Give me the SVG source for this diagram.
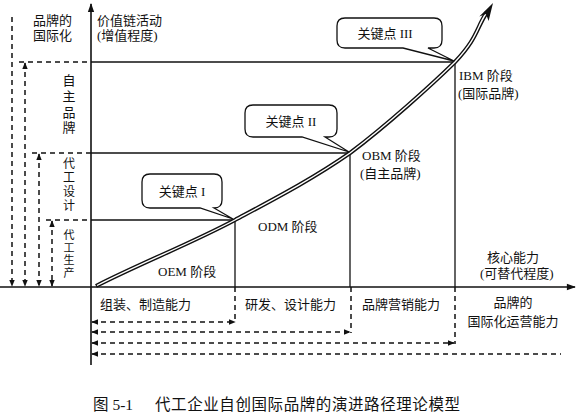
<svg xmlns="http://www.w3.org/2000/svg" width="579" height="416" viewBox="0 0 579 416">
<style>
text{font-family:"Liberation Serif","Noto Sans CJK SC",serif;font-size:13px;fill:#111}
.cap{font-size:15.5px}
.vs{font-size:12px}
.vt{font-size:11px}
.ax{stroke:#111;stroke-width:1.6;fill:none}
.sl{stroke:#111;stroke-width:1.3;fill:none}
.dl{stroke:#111;stroke-width:1.5;stroke-dasharray:5,4;fill:none}
.co{fill:#fff;stroke:#111;stroke-width:1.3}
.mid{text-anchor:middle}
</style>
<defs>
<marker id="ah" viewBox="0 0 10 10" refX="9" refY="5" markerWidth="7" markerHeight="7" orient="auto-start-reverse" markerUnits="userSpaceOnUse">
<path d="M0,1 L10,5 L0,9 Z" fill="#111"/>
</marker>
<marker id="axh" viewBox="0 0 10 10" refX="9" refY="5" markerWidth="10" markerHeight="9" orient="auto" markerUnits="userSpaceOnUse">
<path d="M0,1.5 L10,5 L0,8.5 Z" fill="#111"/>
</marker>
</defs>

<g id="axes">
<line class="ax" x1="0" y1="287" x2="575" y2="287" marker-end="url(#axh)"/>
<line class="ax" x1="91" y1="365" x2="91" y2="4" marker-end="url(#axh)"/>
</g>

<g id="connectors">
<line class="sl" x1="91" y1="62" x2="455" y2="62"/>
<line class="sl" x1="91" y1="153" x2="350" y2="153"/>
<line class="sl" x1="91" y1="220" x2="235" y2="220"/>
<line class="dl" x1="19" y1="62" x2="91" y2="62"/>
<line class="dl" x1="32" y1="153" x2="91" y2="153"/>
<line class="dl" x1="46" y1="220" x2="91" y2="220"/>
<line class="sl" x1="235" y1="220" x2="235" y2="287"/>
<line class="sl" x1="350" y1="153" x2="350" y2="287"/>
<line class="sl" x1="455" y1="62" x2="455" y2="287"/>
<line class="dl" x1="235" y1="287" x2="235" y2="323"/>
<line class="dl" x1="351" y1="287" x2="351" y2="333"/>
<line class="dl" x1="455" y1="287" x2="455" y2="344"/>
<line class="dl" x1="12" y1="17" x2="12" y2="286" marker-end="url(#ah)"/>
<line class="dl" x1="25" y1="63" x2="25" y2="286" marker-start="url(#ah)" marker-end="url(#ah)"/>
<line class="dl" x1="39" y1="154" x2="39" y2="286" marker-start="url(#ah)" marker-end="url(#ah)"/>
<line class="dl" x1="52" y1="221" x2="52" y2="286" marker-start="url(#ah)" marker-end="url(#ah)"/>
<line class="dl" x1="92" y1="322" x2="235" y2="322" marker-start="url(#ah)" marker-end="url(#ah)"/>
<line class="dl" x1="92" y1="332" x2="350" y2="332" marker-start="url(#ah)" marker-end="url(#ah)"/>
<line class="dl" x1="92" y1="343" x2="454" y2="343" marker-start="url(#ah)" marker-end="url(#ah)"/>
<line class="dl" x1="92" y1="354" x2="561" y2="354" marker-start="url(#ah)"/>
</g>

<g id="curve">
<path d="M96,286 C141,263 192.5,242.8 235,220 C277.5,197.2 313.3,178.5 350,153 C386.7,125.5 432.2,84.3 455,62 C477.8,37.7 476.3,28.3 487,12" fill="none" stroke="#111" stroke-width="4.2"/>
<path d="M97,285.5 C141,263 192.5,242.8 235,220 C277.5,197.2 313.3,178.5 350,153 C386.7,125.5 432.2,84.3 455,62 C477.8,37.7 476.3,28.3 486,13.5" fill="none" stroke="#fff" stroke-width="1.4"/>
<path d="M493,3 L488.6,21 L486,14 L479.3,16.5 Z" fill="#111"/>
</g>

<g id="callout1">
<path class="co" d="M150,174 H214 Q222,174 222,182 V200 Q222,208 214,208 H214 L233,219 L200,208 H150 Q142,208 142,200 V182 Q142,174 150,174 Z"/>
<text class="mid" x="182" y="196">关键点 I</text>
</g>
<g id="callout2">
<path class="co" d="M253,105 H329 Q337,105 337,113 V129 Q337,137 329,137 H325 L349,152 L302,137 H253 Q245,137 245,129 V113 Q245,105 253,105 Z"/>
<text class="mid" x="291" y="126">关键点 II</text>
</g>
<g id="callout3">
<path class="co" d="M345,18 H434 Q442,18 442,26 V40 Q442,48 434,48 H428 L454,61 L403,48 H345 Q337,48 337,40 V26 Q337,18 345,18 Z"/>
<text class="mid" x="385" y="38">关键点 III</text>
</g>

<g id="labels-y">
<text x="33" y="25">品牌的</text>
<text x="33" y="40">国际化</text>
<text x="97" y="25">价值链活动</text>
<text x="97" y="40">(增值程度)</text>
</g>
<g id="stage-brand">
<text class="mid" x="69"><tspan x="69" y="85">自</tspan><tspan x="69" y="101">主</tspan><tspan x="69" y="117">品</tspan><tspan x="69" y="132">牌</tspan></text>
</g>
<g id="stage-design">
<text class="mid vs"><tspan x="69" y="168">代</tspan><tspan x="69" y="182">工</tspan><tspan x="69" y="196">设</tspan><tspan x="69" y="210">计</tspan></text>
</g>
<g id="stage-produce">
<text class="mid vt"><tspan x="69" y="239">代</tspan><tspan x="69" y="251.5">工</tspan><tspan x="69" y="264">生</tspan><tspan x="69" y="276.5">产</tspan></text>
</g>

<g id="oem"><text x="158" y="276">OEM 阶段</text></g>
<g id="odm"><text x="258" y="231">ODM 阶段</text></g>
<g id="obm"><text x="362" y="160">OBM 阶段</text><text x="360" y="178">(自主品牌)</text></g>
<g id="ibm"><text x="459" y="80">IBM 阶段</text><text x="458" y="98">(国际品牌)</text></g>
<g id="xlabel"><text x="487" y="262">核心能力</text><text x="480" y="278">(可替代程度)</text></g>

<g id="capabilities">
<text x="100" y="309">组装、制造能力</text>
<text x="245" y="309">研发、设计能力</text>
<text x="362" y="309">品牌营销能力</text>
<text class="mid" x="513" y="307">品牌的</text>
<text class="mid" x="513" y="326">国际化运营能力</text>
</g>

<g id="caption">
<text class="cap" x="93" y="410">图 5-1</text>
<text class="cap" x="155" y="410" textLength="305">代工企业自创国际品牌的演进路径理论模型</text>
</g>
</svg>
